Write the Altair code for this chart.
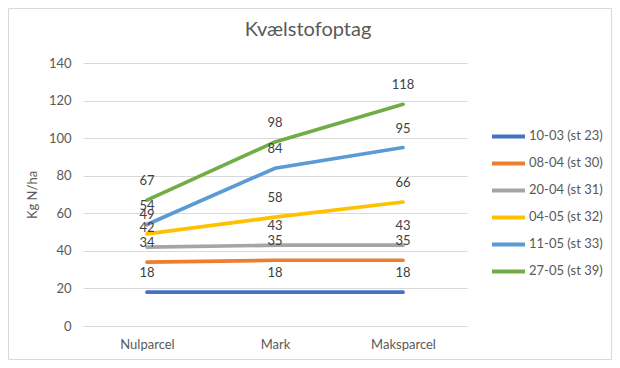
import altair as alt
import pandas as pd

categories = ["Nulparcel", "Mark", "Maksparcel"]
series_names = ["10-03 (st 23)", "08-04 (st 30)", "20-04 (st 31)",
                "04-05 (st 32)", "11-05 (st 33)", "27-05 (st 39)"]
s1 = [18, 18, 18]
s2 = [34, 35, 35]
s3 = [42, 43, 43]
s4 = [49, 58, 66]
s5 = [54, 84, 95]
s6 = [67, 98, 118]
colors = ["#4472C4", "#ED7D31", "#A5A5A5", "#FFC000", "#5B9BD5", "#70AD47"]
y_ticks = [0, 20, 40, 60, 80, 100, 120, 140]
chart_title = "Kvælstofoptag"

rows = []
for name, vals in zip(series_names, [s1, s2, s3, s4, s5, s6]):
    for c, v in zip(categories, vals):
        rows.append({"Kategori": c, "Serie": name, "Værdi": v})
df = pd.DataFrame(rows)

FONT = "Lato"

x_enc = alt.X("Kategori:N", sort=categories,
              scale=alt.Scale(type="point", padding=0.5),
              axis=alt.Axis(title=None, labelAngle=0, domain=False, ticks=False,
                            labelPadding=12, labelFontSize=13, labelColor="#595959",
                            labelFont=FONT, grid=False))
y_enc = alt.Y("Værdi:Q", scale=alt.Scale(domain=[0, 140], nice=False),
              axis=alt.Axis(title="Kg N/ha", values=y_ticks, domain=False, ticks=False,
                            labelOverlap=False,
                            labelPadding=12, labelFontSize=13, labelColor="#595959",
                            labelFont=FONT, gridColor="#D9D9D9", gridWidth=1,
                            titleFontSize=13, titleColor="#595959", titleFont=FONT,
                            titleFontWeight="normal", titlePadding=9))
color_enc = alt.Color("Serie:N", sort=series_names,
                      scale=alt.Scale(domain=series_names, range=colors),
                      legend=alt.Legend(title=None, orient="none", legendX=407, legendY=60,
                                        symbolType="stroke", symbolSize=1089,
                                        symbolStrokeWidth=4, labelFontSize=13,
                                        labelFont=FONT, labelColor="#595959",
                                        labelOffset=2, rowPadding=0, clipHeight=26.8))

lines = alt.Chart(df).mark_line(strokeWidth=3.7, strokeCap="round").encode(
    x=x_enc, y=y_enc, color=color_enc
)
labels = alt.Chart(df).mark_text(dy=-19, fontSize=13, font=FONT, color="#404040").encode(
    x=x_enc, y=y_enc,
    text=alt.Text("Værdi:Q"),
)
border = alt.Chart(alt.Data(values=[{}])).mark_rect(
    fill="transparent", stroke="#D9D9D9", strokeWidth=1
).encode(
    x=alt.value(-74.5), x2=alt.value(528.5), y=alt.value(-54.5), y2=alt.value(296.5)
)
title = alt.Chart(alt.Data(values=[{"t": chart_title}])).mark_text(
    fontSize=20, font=FONT, color="#595959", baseline="middle", align="center"
).encode(
    text="t:N", x=alt.value(225), y=alt.value(-33)
)

chart = alt.layer(border, lines, labels, title).properties(
    width=384, height=263,
    autosize=alt.AutoSizeParams(type="none"),
    padding={"left": 75, "top": 55, "right": 145, "bottom": 34},
).configure_view(stroke=None)

chart.save("out.html", embed_options={"renderer": "svg", "actions": False})
